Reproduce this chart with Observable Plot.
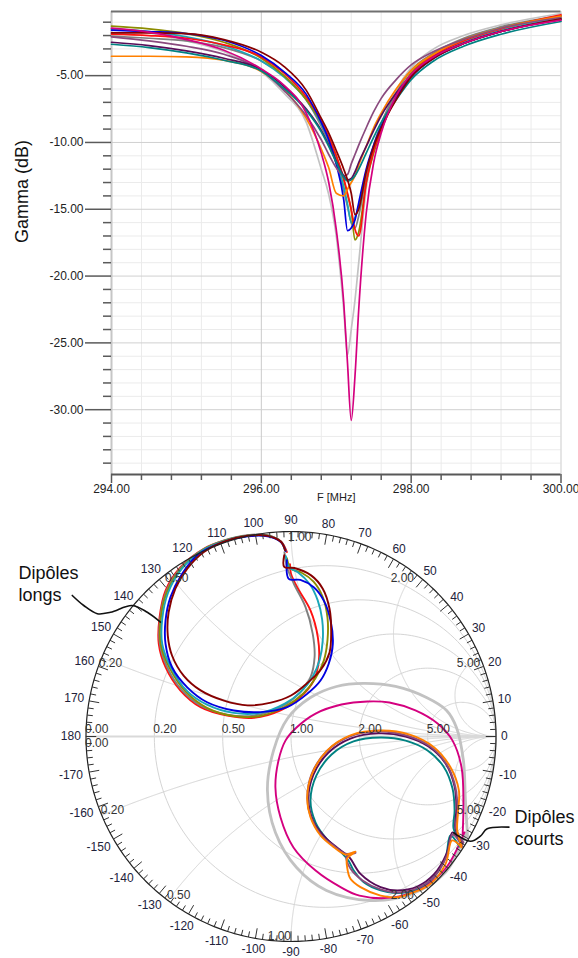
<!DOCTYPE html>
<html>
<head>
<meta charset="utf-8">
<script src="https://cdn.jsdelivr.net/npm/d3@7"></script>
<script src="https://cdn.jsdelivr.net/npm/@observablehq/plot@0.6"></script>
<style>
html, body { margin: 0; padding: 0; background: #fff; }
svg { display: block; }
</style>
</head>
<body>
<div id="top"></div>
<div id="smith"></div>
<script>
// ---------- Top chart: Gamma (dB) vs F [MHz] ----------
const F = [294, 294.5, 295, 295.5, 296, 296.3, 296.6, 296.8, 296.9, 297.0, 297.1, 297.15, 297.2, 297.25, 297.3, 297.4, 297.5, 297.6, 297.8, 298.0, 298.3, 298.7, 299.2, 300];

const gLightGray = [-1.5, -1.8, -2.4, -3.2, -4.7, -6.3, -8.5, -12.0, -13.9, -17.0, -22.5, -25.9, -24.0, -21.8, -19.0, -13.4, -10.6, -8.7, -6.1, -4.4, -3.0, -2.0, -1.2, -0.35];
const gGray      = [-2.05, -2.2, -2.4, -2.9, -3.9, -5.0, -6.8, -8.8, -10.0, -11.6, -13.6, -14.8, -16.0, -16.4, -15.5, -12.5, -10.2, -8.6, -6.3, -4.6, -3.3, -2.2, -1.35, -0.5];
const gCyan      = [-1.5, -1.7, -2.1, -2.75, -3.9, -5.1, -6.8, -8.6, -9.8, -11.3, -13.3, -14.6, -16.0, -15.6, -14.8, -12.2, -10.3, -8.8, -6.6, -4.9, -3.6, -2.5, -1.6, -0.7];
const gOlive     = [-1.3, -1.5, -1.85, -2.5, -3.7, -5.0, -6.8, -8.5, -9.6, -11.0, -12.8, -13.9, -15.1, -17.3, -16.7, -13.0, -10.8, -9.1, -6.6, -4.8, -3.4, -2.3, -1.45, -0.55];
const gRed       = [-1.9, -2.0, -2.2, -2.7, -3.6, -4.8, -6.6, -8.4, -9.6, -11.0, -12.7, -13.8, -15.0, -16.5, -17.0, -13.0, -10.6, -9.0, -6.6, -4.9, -3.5, -2.4, -1.5, -0.45];
const gBlue      = [-1.6, -1.7, -1.85, -2.35, -3.5, -4.7, -6.4, -8.5, -9.8, -11.6, -14.3, -16.6, -16.4, -15.8, -14.5, -12.0, -10.2, -8.8, -6.7, -5.1, -3.7, -2.6, -1.7, -0.8];
const gOrange    = [-3.55, -3.55, -3.6, -3.85, -4.7, -6.0, -8.2, -10.5, -11.9, -13.8, -14.0, -13.5, -13.0, -12.5, -11.7, -10.3, -8.9, -7.8, -6.0, -4.6, -3.4, -2.3, -1.45, -0.55];
const gMauve     = [-2.1, -2.4, -2.8, -3.4, -4.6, -6.1, -8.0, -9.8, -10.9, -11.9, -12.5, -12.4, -11.6, -10.9, -10.2, -8.9, -7.7, -6.7, -5.3, -4.2, -3.2, -2.3, -1.45, -0.65];
const gPurple    = [-2.5, -2.75, -3.15, -3.7, -4.55, -5.8, -7.5, -9.1, -10.2, -11.4, -12.5, -12.8, -12.7, -12.2, -11.5, -10.3, -9.1, -8.0, -6.3, -5.0, -3.6, -2.6, -1.7, -0.8];
const gTeal      = [-2.65, -2.9, -3.3, -3.85, -4.65, -5.95, -7.6, -9.2, -10.3, -11.5, -12.6, -12.9, -12.8, -12.5, -12.0, -10.8, -9.6, -8.5, -6.8, -5.3, -3.9, -2.8, -1.9, -0.95];
const gDarkRed   = [-1.8, -1.8, -1.85, -2.3, -3.25, -4.3, -6.1, -8.2, -9.3, -10.6, -12.0, -12.8, -13.8, -15.4, -15.0, -12.2, -10.3, -8.9, -6.8, -5.1, -3.7, -2.6, -1.7, -0.75];
const gMagenta   = [-1.45, -1.75, -2.3, -3.1, -4.5, -5.7, -7.8, -10.8, -13.0, -16.5, -22.0, -26.5, -30.8, -27.5, -22.5, -15.3, -11.5, -9.3, -6.5, -4.9, -3.6, -2.6, -1.7, -0.85];

const names  = ["lightgray", "gray", "cyan", "olive", "red", "blue", "orange", "mauve", "purple", "teal", "darkred", "magenta"];
const colors = ["#c2c2c2", "#7f7f7f", "#1aa6b8", "#8c8c00", "#ff1010", "#0000e0", "#ff8000", "#8a4a7e", "#580c58", "#008282", "#870000", "#d4007f"];
const gammaSeries = [gLightGray, gGray, gCyan, gOlive, gRed, gBlue, gOrange, gMauve, gPurple, gTeal, gDarkRed, gMagenta];

const xMajor = [294, 296, 298, 300];
const yMajor = [-30, -25, -20, -15, -10, -5];
const xMinor = d3.range(0, 16).map(i => 294 + i * 0.4).filter(v => Math.abs(((v - 294) / 2) - Math.round((v - 294) / 2)) > 1e-6);
const yMinor = d3.range(-34, 0).filter(v => v % 5 !== 0);
const yDomain = [-34.85, -0.2];

const rows = names.flatMap((n, k) => F.map((f, i) => ({f, g: gammaSeries[k][i], name: n})));

const FONT = "'Liberation Sans', Arial, Helvetica, sans-serif";

const topPlot = Plot.plot({
  width: 578, height: 505,
  marginLeft: 111, marginRight: 17.5, marginTop: 11, marginBottom: 31,
  style: {fontFamily: FONT, fontSize: "12px", color: "#222", background: "#fff", overflow: "visible"},
  x: {domain: [294, 300]},
  y: {domain: yDomain},
  color: {domain: names, range: colors},
  marks: [
    Plot.gridX({ticks: xMinor, stroke: "#ebebeb", strokeOpacity: 1}),
    Plot.gridY({ticks: yMinor, stroke: "#ebebeb", strokeOpacity: 1}),
    Plot.gridX({ticks: xMajor, stroke: "#cbcbcb", strokeOpacity: 1}),
    Plot.gridY({ticks: yMajor, stroke: "#d0d0d0", strokeOpacity: 1}),
    Plot.ruleX([294], {stroke: "#c6c6c6", strokeWidth: 2}),
    Plot.ruleY([yDomain[1]], {stroke: "#707070", strokeWidth: 2}),
    Plot.line(rows, {x: "f", y: "g", z: "name", stroke: "name", curve: "monotone-x", strokeWidth: 1.7}),
    Plot.ruleY([yDomain[0]], {stroke: "#585858", strokeWidth: 2}),
    Plot.axisY({ticks: yMinor, tickSize: 8, tickFormat: () => "", stroke: "#5a5a5a", strokeWidth: 1.5, label: null}),
    Plot.axisY({ticks: yMajor, tickSize: 26, tickPadding: 2, tickFormat: d => d.toFixed(2), stroke: "#5a5a5a", strokeWidth: 1.5, fill: "#222", fontSize: 12, label: null}),
    Plot.axisX({ticks: xMinor, tickSize: 6, tickFormat: () => "", stroke: "#5a5a5a", strokeWidth: 1.5, label: null}),
    Plot.axisX({ticks: xMajor, tickSize: 9, tickPadding: 1, tickFormat: d => d.toFixed(2), stroke: "#5a5a5a", strokeWidth: 1.5, fill: "#222", fontSize: 12, label: null}),
    Plot.text(["Gamma (dB)"], {text: d => d, frameAnchor: "left", rotate: -90, dx: -89, fontSize: 18, fill: "#111"}),
    Plot.text(["F [MHz]"], {text: d => d, frameAnchor: "bottom", dy: 26, fontSize: 11, fill: "#222"})
  ]
});
document.getElementById("top").appendChild(topPlot);

// ---------- Smith chart (reflection coefficient, normalized) ----------
// Long dipoles
const sDarkRed = [[-0.033,0.884],[-0.033,0.827],[0.016,0.822],[0.098,0.786],[0.155,0.721],[0.188,0.623],[0.196,0.508],[0.188,0.410],[0.147,0.328],[0.082,0.263],[0.000,0.200],[-0.098,0.165],[-0.212,0.152],[-0.327,0.175],[-0.441,0.225],[-0.523,0.296],[-0.580,0.394],[-0.601,0.492],[-0.597,0.606],[-0.564,0.721],[-0.506,0.819],[-0.425,0.900],[-0.327,0.950],[-0.212,0.979],[-0.114,0.979],[-0.049,0.950],[-0.029,0.908]];
const sBlue = [[-0.020,0.860],[-0.011,0.769],[0.046,0.764],[0.111,0.728],[0.160,0.663],[0.193,0.566],[0.204,0.452],[0.184,0.355],[0.144,0.273],[0.079,0.208],[-0.019,0.143],[-0.149,0.119],[-0.279,0.127],[-0.409,0.167],[-0.506,0.240],[-0.580,0.338],[-0.612,0.452],[-0.612,0.566],[-0.588,0.680],[-0.531,0.794],[-0.450,0.890],[-0.340,0.945],[-0.212,0.976],[-0.114,0.976],[-0.049,0.948],[-0.026,0.905]];
const sRed = [[-0.005,0.840],[0.000,0.794],[0.030,0.728],[0.095,0.615],[0.131,0.484],[0.136,0.371],[0.111,0.273],[0.046,0.192],[-0.051,0.127],[-0.181,0.091],[-0.311,0.102],[-0.441,0.143],[-0.539,0.224],[-0.612,0.338],[-0.645,0.452],[-0.641,0.582],[-0.612,0.712],[-0.539,0.826],[-0.425,0.916],[-0.327,0.955],[-0.212,0.980],[-0.114,0.980],[-0.049,0.952],[-0.020,0.900]];
const sOlive = [[-0.020,0.870],[0.000,0.818],[0.050,0.800],[0.110,0.755],[0.155,0.680],[0.178,0.580],[0.178,0.470],[0.160,0.370],[0.120,0.285],[0.060,0.210],[-0.030,0.145],[-0.150,0.100],[-0.280,0.100],[-0.410,0.140],[-0.510,0.215],[-0.590,0.330],[-0.635,0.450],[-0.635,0.580],[-0.605,0.705],[-0.535,0.820],[-0.430,0.910],[-0.330,0.953],[-0.212,0.980],[-0.114,0.980],[-0.049,0.950],[-0.025,0.905]];
const sCyan = [[-0.025,0.880],[-0.010,0.826],[0.035,0.800],[0.090,0.745],[0.130,0.665],[0.152,0.570],[0.155,0.470],[0.140,0.375],[0.105,0.290],[0.050,0.220],[-0.030,0.160],[-0.150,0.115],[-0.280,0.115],[-0.410,0.155],[-0.510,0.225],[-0.585,0.335],[-0.628,0.450],[-0.628,0.575],[-0.600,0.700],[-0.535,0.815],[-0.435,0.905],[-0.330,0.952],[-0.212,0.979],[-0.114,0.979],[-0.049,0.950],[-0.030,0.910]];
const sGray = [[-0.032,0.899],[-0.019,0.826],[0.014,0.745],[0.071,0.631],[0.106,0.501],[0.115,0.387],[0.095,0.289],[0.038,0.208],[-0.051,0.143],[-0.181,0.102],[-0.311,0.107],[-0.440,0.150],[-0.535,0.230],[-0.605,0.340],[-0.640,0.455],[-0.637,0.585],[-0.607,0.710],[-0.537,0.824],[-0.430,0.912],[-0.330,0.955],[-0.212,0.982],[-0.114,0.982],[-0.060,0.960]];
// Short dipoles
const sLightGray = [[0.856,-0.468],[0.754,-0.663],[0.583,-0.771],[0.388,-0.800],[0.173,-0.751],[0.027,-0.639],[-0.076,-0.468],[-0.115,-0.263],[-0.085,-0.068],[-0.017,0.088],[0.095,0.190],[0.222,0.244],[0.354,0.259],[0.510,0.244],[0.661,0.190],[0.759,0.127],[0.807,0.044],[0.841,-0.117],[0.851,-0.312],[0.861,-0.488]];
const sMagenta = [[0.846,-0.468],[0.754,-0.644],[0.632,-0.741],[0.500,-0.785],[0.334,-0.776],[0.246,-0.737],[0.120,-0.654],[0.012,-0.541],[-0.051,-0.395],[-0.076,-0.249],[-0.061,-0.117],[-0.027,-0.020],[0.027,0.044],[0.120,0.112],[0.246,0.156],[0.373,0.171],[0.480,0.166],[0.607,0.127],[0.715,0.063],[0.788,-0.020],[0.832,-0.151],[0.841,-0.327],[0.837,-0.483]];
const sOrange = [[0.832,-0.532],[0.811,-0.459],[0.814,-0.377],[0.819,-0.263],[0.778,-0.150],[0.697,-0.052],[0.583,0.008],[0.437,0.029],[0.290,0.005],[0.177,-0.068],[0.103,-0.182],[0.079,-0.296],[0.095,-0.394],[0.144,-0.483],[0.209,-0.540],[0.266,-0.576],[0.315,-0.561],[0.274,-0.595],[0.274,-0.638],[0.290,-0.694],[0.339,-0.735],[0.437,-0.776],[0.518,-0.784],[0.598,-0.760],[0.680,-0.719],[0.754,-0.621],[0.786,-0.507],[0.832,-0.541]];
const sTeal = [[0.827,-0.517],[0.793,-0.449],[0.798,-0.361],[0.788,-0.254],[0.744,-0.146],[0.666,-0.068],[0.559,-0.020],[0.437,-0.005],[0.305,-0.024],[0.198,-0.088],[0.124,-0.190],[0.095,-0.312],[0.120,-0.420],[0.173,-0.498],[0.241,-0.561],[0.280,-0.605],[0.306,-0.654],[0.355,-0.711],[0.437,-0.751],[0.518,-0.764],[0.616,-0.743],[0.697,-0.686],[0.754,-0.589],[0.778,-0.483],[0.822,-0.537]];
const sPurple = [[0.837,-0.522],[0.802,-0.449],[0.807,-0.351],[0.798,-0.244],[0.754,-0.132],[0.671,-0.049],[0.559,0.000],[0.427,0.015],[0.290,-0.010],[0.183,-0.078],[0.110,-0.185],[0.085,-0.307],[0.110,-0.415],[0.168,-0.493],[0.237,-0.551],[0.285,-0.590],[0.339,-0.670],[0.437,-0.735],[0.518,-0.751],[0.616,-0.732],[0.697,-0.673],[0.759,-0.571],[0.788,-0.468],[0.832,-0.527]];
const sMauve = [[0.841,-0.517],[0.805,-0.449],[0.812,-0.361],[0.802,-0.249],[0.763,-0.142],[0.680,-0.049],[0.563,0.005],[0.427,0.024],[0.285,0.000],[0.173,-0.073],[0.100,-0.185],[0.080,-0.302],[0.100,-0.400],[0.149,-0.483],[0.207,-0.532],[0.266,-0.572],[0.315,-0.567],[0.271,-0.585],[0.290,-0.644],[0.349,-0.702],[0.437,-0.746],[0.520,-0.761],[0.612,-0.741],[0.695,-0.688],[0.759,-0.585],[0.788,-0.478],[0.837,-0.537]];

const smithNames = ["lightgray", "magenta", "red", "gray", "olive", "cyan", "blue", "darkred", "teal", "purple", "mauve", "orange"];
const smithSeries = [sLightGray, sMagenta, sRed, sGray, sOlive, sCyan, sBlue, sDarkRed, sTeal, sPurple, sMauve, sOrange];
const smithRows = smithNames.flatMap((n, k) => smithSeries[k].map(([u, v], i) => ({u, v, i, name: n})));

// Smith grid definitions
const R_TICKS = [0.2, 0.5, 1, 2, 5];
const X_TICKS = [0.2, 0.5, 1, 2, 5];
const ANGLE_LABELS = d3.range(-170, 190, 10);
const annotLongText = "Dipôles\nlongs";
const annotShortText = "Dipôles\ncourts";
const annotLongAnchor = [-1.329, 0.749];
const annotShortAnchor = [1.090, -0.442];
const annotLongPath = [[-1.067,0.688],[-1.011,0.639],[-0.945,0.599],[-0.880,0.606],[-0.775,0.639],[-0.701,0.606],[-0.637,0.558]];
const annotShortPath = [[1.063,-0.442],[0.957,-0.450],[0.924,-0.486],[0.876,-0.511],[0.794,-0.470]];

function gamma(r, x) {
  const den = (r + 1) * (r + 1) + x * x;
  return [(r * r + x * x - 1) / den, (2 * x) / den];
}
const rad = a => a * Math.PI / 180;
const gridRows = [];
R_TICKS.forEach(r => {
  const c = r / (1 + r), R = 1 / (1 + r);
  d3.range(0, 361, 2).forEach(a => gridRows.push({k: "r" + r, u: c + R * Math.cos(rad(a)), v: R * Math.sin(rad(a))}));
});
const sParam = d3.range(0, 0.9995, 0.0025).concat([0.9995]);
X_TICKS.flatMap(x => [x, -x]).forEach(x => {
  sParam.forEach(s => {
    const r = s / (1 - s);
    const [u, v] = gamma(r, x);
    gridRows.push({k: "x" + x, u, v});
  });
});
const outer = d3.range(0, 361, 1).map(a => [Math.cos(rad(a)), Math.sin(rad(a))]);
const angleTicks = d3.range(-180, 180, 2);

const fmt2 = d3.format(".2f");
const xLabels = X_TICKS.flatMap(x => [x, -x]);

const smithPlot = Plot.plot({
  width: 578, height: 453,
  marginLeft: 85.5, marginRight: 82.5, marginTop: 26, marginBottom: 17,
  style: {fontFamily: FONT, fontSize: "12px", color: "#222", background: "#fff", overflow: "visible"},
  x: {domain: [-1, 1], axis: null},
  y: {domain: [-1, 1], axis: null},
  color: {domain: names, range: colors},
  marks: [
    Plot.line(gridRows, {x: "u", y: "v", z: "k", stroke: "#d5d5d5", strokeWidth: 1}),
    Plot.line([[-1, 0], [1, 0]], {x: d => d[0], y: d => d[1], stroke: "#d9d9d9", strokeWidth: 2}),
    Plot.line(smithRows, {x: "u", y: "v", z: "name", stroke: "name", curve: "catmull-rom",
      strokeWidth: d => d.name === "lightgray" ? 2.8 : 1.9}),
    Plot.line(outer, {x: d => d[0], y: d => d[1], stroke: "#222", strokeWidth: 1.2}),
    Plot.link(angleTicks, {
      x1: a => Math.cos(rad(a)), y1: a => Math.sin(rad(a)),
      x2: a => (1 - (a % 10 === 0 ? 0.05 : 0.028)) * Math.cos(rad(a)),
      y2: a => (1 - (a % 10 === 0 ? 0.05 : 0.028)) * Math.sin(rad(a)),
      stroke: "#333", strokeWidth: 1
    }),
    // angle labels
    Plot.text(ANGLE_LABELS, {
      text: a => String(a),
      x: a => { const hw = String(a).length * 3.4, hh = 6; const rp = 210 + Math.hypot(hw * Math.cos(rad(a)), hh * Math.sin(rad(a))); return rp / 205 * Math.cos(rad(a)); },
      y: a => { const hw = String(a).length * 3.4, hh = 6; const rp = 210 + Math.hypot(hw * Math.cos(rad(a)), hh * Math.sin(rad(a))); return rp / 205 * Math.sin(rad(a)); },
      fontSize: 12, fill: "#22223a"
    }),
    // resistance labels
    Plot.text([0].concat(R_TICKS), {x: r => (r - 1) / (r + 1), y: () => 0, text: r => fmt2(r), textAnchor: "start", dy: -7, dx: -1, fontSize: 12, fill: "#333"}),
    Plot.text([0], {x: () => -1, y: () => 0, text: r => fmt2(r), textAnchor: "start", dy: 7, dx: -1, fontSize: 12, fill: "#333"}),
    // reactance labels (upper half)
    Plot.text(X_TICKS.filter(x => x <= 1), {x: x => gamma(0, x)[0], y: x => gamma(0, x)[1], text: x => fmt2(x), textAnchor: "start", dx: -3, dy: 6, fontSize: 12, fill: "#333"}),
    Plot.text(X_TICKS.filter(x => x > 1), {x: x => gamma(0, x)[0], y: x => gamma(0, x)[1], text: x => fmt2(x), textAnchor: "end", dx: 0, dy: 6, fontSize: 12, fill: "#333"}),
    // reactance labels (lower half)
    Plot.text(X_TICKS.filter(x => x < 1), {x: x => gamma(0, -x)[0], y: x => gamma(0, -x)[1], text: x => fmt2(x), textAnchor: "start", dx: -1, dy: -5, fontSize: 12, fill: "#333"}),
    Plot.text(X_TICKS.filter(x => x >= 1), {x: x => gamma(0, -x)[0], y: x => gamma(0, -x)[1], text: x => fmt2(x), textAnchor: "end", dx: 0, dy: -5, fontSize: 12, fill: "#333"}),
    // annotations
    Plot.line(annotLongPath, {x: d => d[0], y: d => d[1], curve: "catmull-rom", stroke: "#111", strokeWidth: 1.6}),
    Plot.line(annotShortPath, {x: d => d[0], y: d => d[1], curve: "catmull-rom", stroke: "#111", strokeWidth: 1.6}),
    Plot.text([annotLongText], {x: () => annotLongAnchor[0], y: () => annotLongAnchor[1], text: d => d, textAnchor: "start", lineAnchor: "middle", lineHeight: 1.2, fontSize: 18, fill: "#111"}),
    Plot.text([annotShortText], {x: () => annotShortAnchor[0], y: () => annotShortAnchor[1], text: d => d, textAnchor: "start", lineAnchor: "middle", lineHeight: 1.2, fontSize: 18, fill: "#111"})
  ]
});
document.getElementById("smith").appendChild(smithPlot);
</script>
</body>
</html>
